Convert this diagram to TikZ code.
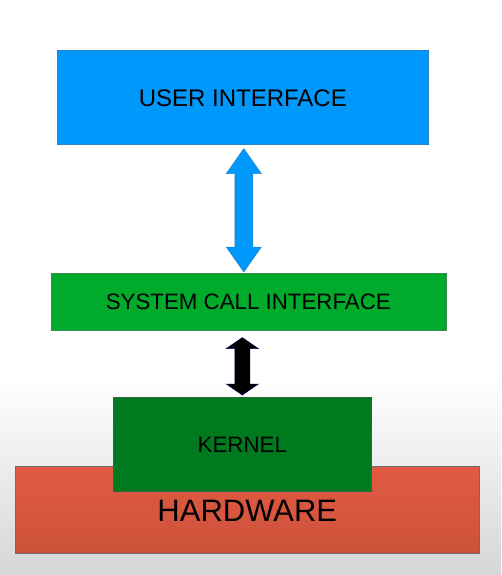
\documentclass[tikz,border=0pt]{standalone}
\usepackage{fontspec}
\setmainfont{Liberation Sans}
\usetikzlibrary{calc}
\definecolor{uiblue}{RGB}{0,152,250}
\definecolor{uiblueedge}{RGB}{40,130,200}
\definecolor{scgreen}{RGB}{0,170,42}
\definecolor{scgreenedge}{RGB}{60,140,80}
\definecolor{kgreen}{RGB}{0,122,30}
\definecolor{kgreenedge}{RGB}{50,100,70}
\definecolor{hwtop}{RGB}{226,90,66}
\definecolor{hwbot}{RGB}{204,82,58}
\definecolor{hwedge}{RGB}{110,105,125}
\definecolor{bgbot}{RGB}{214,214,214}
\tikzset{
  layer/.style={rectangle, inner sep=0pt, anchor=north west, text=black},
}
\begin{document}
\begin{tikzpicture}[x=1pt,y=-1pt]
\useasboundingbox (0,0) rectangle (501,575);
% background
\fill[white] (0,0) rectangle (501,380);
\shade[top color=white, bottom color=bgbot] (0,379) rectangle (501,575);
% user interface
\node[layer, fill=uiblue, draw=uiblueedge, line width=0.6pt, minimum width=371pt, minimum height=94pt] (ui) at (57,50) {};
\node[font=\fontsize{24}{24}\selectfont] (uit) at ($(ui.center)+(0,0.5)$) {USER INTERFACE};
% system call interface
\node[layer, fill=scgreen, draw=scgreenedge, line width=0.6pt, minimum width=395pt, minimum height=57pt] (sc) at (51,273) {};
\node[font=\fontsize{22.3}{22.3}\selectfont] (sct) at ($(sc.center)+(-0.5,0.5)$) {SYSTEM CALL INTERFACE};
% hardware
\node[layer, top color=hwtop, bottom color=hwbot, draw=hwedge, line width=0.6pt, minimum width=464pt, minimum height=87pt] (hw) at (15,466) {};
\node[font=\fontsize{31}{31}\selectfont] (hwt) at ($(hw.center)+(0,1)$) {HARDWARE};
% kernel
\node[layer, fill=kgreen, draw=kgreenedge, line width=0.6pt, minimum width=258pt, minimum height=94pt] (k) at (113,397) {};
\node[font=\fontsize{22.3}{22.3}\selectfont] (kt) at ($(k.center)+(0,1)$) {KERNEL};
% blue double arrow between ui and sc
\coordinate (a1) at ($(ui.south)+(1,4)$);
\coordinate (a2) at ($(a1|-sc.north)+(0,-1)$);
\filldraw[fill=uiblue, draw=uiblueedge, line width=0.5pt]
  (a1) -- ($(a1)+(17.5,25)$) -- ($(a1)+(9,25)$) -- ($(a2)+(9,-25)$) -- ($(a2)+(17.5,-25)$)
  -- (a2) -- ($(a2)+(-17.5,-25)$) -- ($(a2)+(-9,-25)$) -- ($(a1)+(-9,25)$) -- ($(a1)+(-17.5,25)$) -- cycle;
% black double arrow between sc and k
\coordinate (b1) at ($(k.north|-sc.south)+(0,7)$);
\coordinate (b2) at ($(k.north)+(0,-2)$);
\filldraw[fill=black, draw=black!70!blue, line width=0.5pt]
  (b1) -- ($(b1)+(16,11)$) -- ($(b1)+(7.5,11)$) -- ($(b2)+(7.5,-11)$) -- ($(b2)+(16,-11)$)
  -- (b2) -- ($(b2)+(-16,-11)$) -- ($(b2)+(-7.5,-11)$) -- ($(b1)+(-7.5,11)$) -- ($(b1)+(-16,11)$) -- cycle;
\end{tikzpicture}
\end{document}
